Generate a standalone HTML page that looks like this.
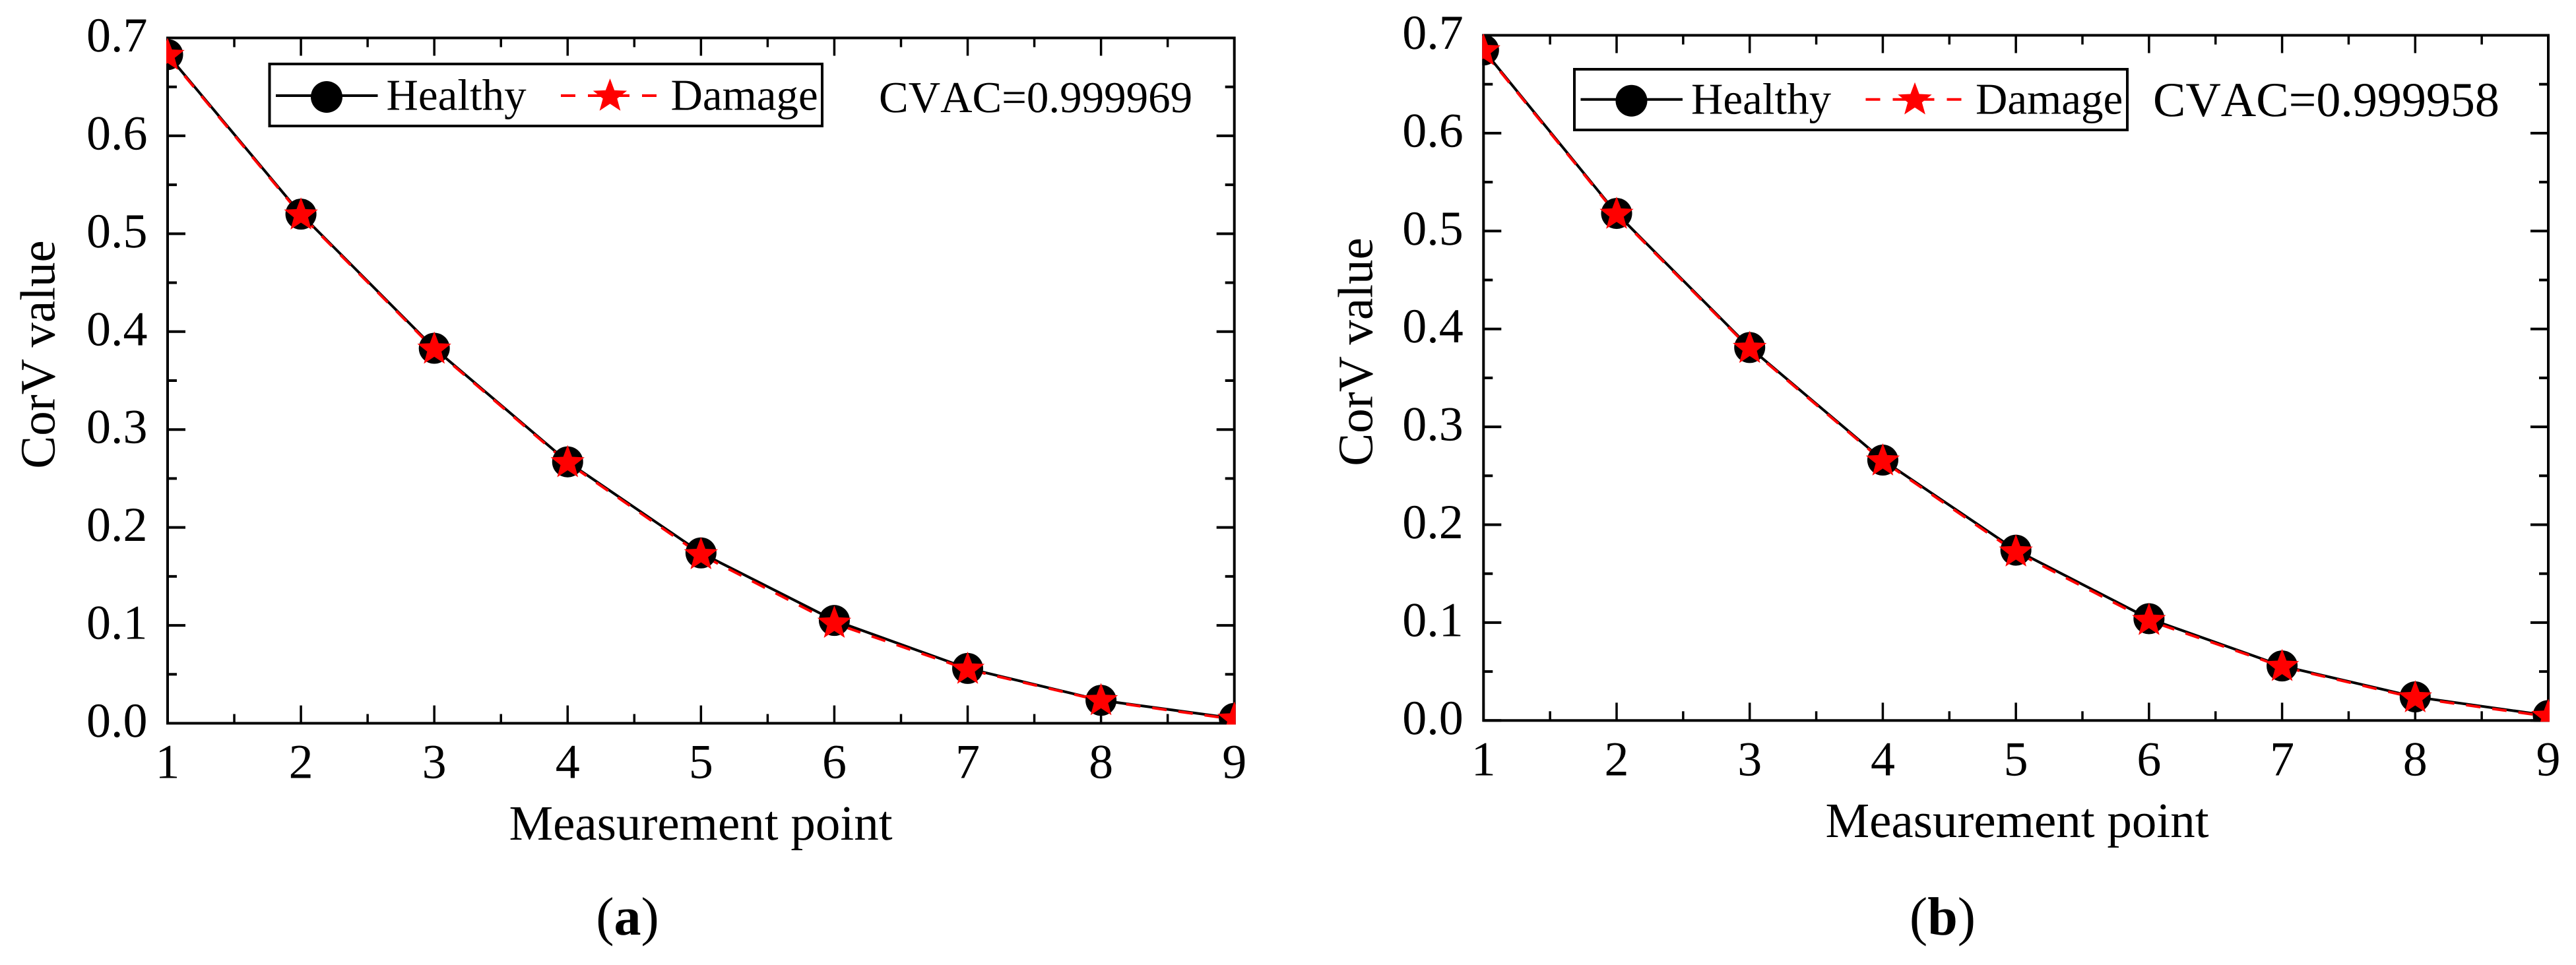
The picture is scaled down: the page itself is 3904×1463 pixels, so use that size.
<!DOCTYPE html>
<html lang="en">
<head>
<meta charset="utf-8">
<title>CorV value comparison: healthy and damage</title>
<style>
html,body{margin:0;padding:0;background:#fff;width:3904px;height:1463px;overflow:hidden}
svg{display:block}
text{font-family:"Liberation Serif",serif;fill:#000;text-rendering:geometricPrecision}
</style>
</head>
<body>
<svg id="figure" xmlns="http://www.w3.org/2000/svg" width="3904" height="1463" viewBox="0 0 3904 1463"></svg>
<script>
const measurementPoints = [1, 2, 3, 4, 5, 6, 7, 8, 9];
const xTickLabels = ['1', '2', '3', '4', '5', '6', '7', '8', '9'];
const yTickLabels = ['0.0', '0.1', '0.2', '0.3', '0.4', '0.5', '0.6', '0.7'];
const yTickValues = [0, 0.1, 0.2, 0.3, 0.4, 0.5, 0.6, 0.7];
const healthyA = [0.683, 0.520, 0.383, 0.267, 0.174, 0.105, 0.056, 0.0234, 0.005];
const damageA = [0.682, 0.519, 0.382, 0.266, 0.172, 0.102, 0.055, 0.023, 0.004];
const healthyB = [0.685, 0.518, 0.381, 0.266, 0.174, 0.104, 0.0557, 0.0241, 0.005];
const damageB = [0.684, 0.517, 0.380, 0.265, 0.172, 0.102, 0.055, 0.023, 0.004];

const NS = 'http://www.w3.org/2000/svg';
const figure = document.getElementById('figure');

function mk(parent, tag, attrs, txt) {
  const el = document.createElementNS(NS, tag);
  for (const k in attrs) el.setAttribute(k, attrs[k]);
  if (txt !== undefined) el.textContent = txt;
  parent.appendChild(el);
  return el;
}
function starPoints(cx, cy, R) {
  const pts = [];
  for (let i = 0; i < 10; i++) {
    const r = i % 2 ? R * 0.42 : R;
    const a = -Math.PI / 2 + i * Math.PI / 5;
    pts.push((cx + r * Math.cos(a)).toFixed(2) + ',' + (cy + r * Math.sin(a)).toFixed(2));
  }
  return pts.join(' ');
}
function straightPath(xs, ys) {
  return xs.map((x, i) => (i ? 'L' : 'M') + x.toFixed(2) + ' ' + ys[i].toFixed(2)).join(' ');
}

function drawPanel(cfg) {
  const g = mk(figure, 'g', {});
  
  

  const xScale = v => cfg.left + (v - 1) / 8 * (cfg.right - cfg.left);
  const yScale = v => cfg.bottom - v / 0.7 * (cfg.bottom - cfg.top);

  // Ticks
  const ticks = mk(g, 'g', { stroke: '#000', fill: 'none' });
  
  
  measurementPoints.forEach((p, i) => {
    const x = xScale(p);
    [[cfg.bottom, -1], [cfg.top, 1]].forEach(([y0, dir]) => {
      const major = mk(ticks, 'line', { x1: x, x2: x, y1: y0, y2: y0 + dir * 27, 'stroke-width': 3.5 });
      
      
      if (i < measurementPoints.length - 1) {
        const xm = xScale(p + 0.5);
        const minor = mk(ticks, 'line', { x1: xm, x2: xm, y1: y0, y2: y0 + dir * 14, 'stroke-width': 3.5 });
        
        
      }
    });
  });
  yTickValues.forEach((v, i) => {
    const y = yScale(v);
    [[cfg.left, 1], [cfg.right, -1]].forEach(([x0, dir]) => {
      const major = mk(ticks, 'line', { x1: x0, x2: x0 + dir * 27, y1: y, y2: y, 'stroke-width': 4 });
      
      
      if (i < yTickValues.length - 1) {
        const ym = yScale(v + 0.05);
        const minor = mk(ticks, 'line', { x1: x0, x2: x0 + dir * 14, y1: ym, y2: ym, 'stroke-width': 4 });
        
        
      }
    });
  });

  // Axes frame
  const frame = mk(g, 'rect', { x: cfg.left, y: cfg.top, width: cfg.right - cfg.left, height: cfg.bottom - cfg.top, fill: 'none', stroke: '#000', 'stroke-width': 4 });
  
  

  // Tick labels
  xTickLabels.forEach((label, i) => {
    const t = mk(g, 'text', { x: xScale(measurementPoints[i]), y: cfg.bottom + 83, 'font-size': 74, 'text-anchor': 'middle' }, label);
    
    
  });
  yTickLabels.forEach((label, i) => {
    const t = mk(g, 'text', { x: cfg.left - 30.5, y: yScale(yTickValues[i]) + 20.5, 'font-size': 74, 'text-anchor': 'end' }, label);
    
    
  });

  // Axis titles
  const xTitle = mk(g, 'text', { x: cfg.xTitleX, y: cfg.xTitleY, 'font-size': 75, 'text-anchor': 'middle' }, 'Measurement point');
  
  
  const yTitle = mk(g, 'text', { x: cfg.yTitleX, y: cfg.yTitleY, 'font-size': 75, 'text-anchor': 'middle', transform: 'rotate(-90 ' + cfg.yTitleX + ' ' + cfg.yTitleY + ')' }, 'CorV value');
  
  

  // Series, clipped to the plot area
  const clip = mk(g, 'clipPath', { id: cfg.clipId });
  mk(clip, 'rect', { x: cfg.left - 2, y: cfg.top - 2, width: cfg.right - cfg.left + 4, height: cfg.bottom - cfg.top + 4 });
  const plot = mk(g, 'g', { 'clip-path': 'url(#' + cfg.clipId + ')' });
  
  

  const xs = measurementPoints.map(xScale);
  const healthyLine = mk(plot, 'path', { d: straightPath(xs, cfg.healthy.map(yScale)), fill: 'none', stroke: '#000', 'stroke-width': 4 });
  
  
  const damageLine = mk(plot, 'path', { d: straightPath(xs, cfg.damage.map(yScale)), fill: 'none', stroke: '#f00', 'stroke-width': 4, 'stroke-dasharray': '22 18' });
  
  
  cfg.healthy.forEach((v, i) => {
    const c = mk(plot, 'circle', { cx: xs[i], cy: yScale(v), r: 23.5, fill: '#000' });
    
    
  });
  cfg.damage.forEach((v, i) => {
    const s = mk(plot, 'polygon', { points: starPoints(xs[i], yScale(v), 27), fill: '#f00' });
    
    
  });

  // Legend
  const L = cfg.legend;
  const legend = mk(g, 'g', {});
  
  
  const box = mk(legend, 'rect', { x: L.x, y: L.y, width: L.w, height: L.h, fill: '#fff', stroke: '#000', 'stroke-width': 4 });
  
  
  const lh = mk(legend, 'line', { x1: L.x + 9.5, x2: L.x + 164, y1: L.lineY, y2: L.lineY, stroke: '#000', 'stroke-width': 4 });
  
  
  const lc = mk(legend, 'circle', { cx: L.x + 86.5, cy: L.lineY + 2, r: 24, fill: '#000' });
  
  
  const lht = mk(legend, 'text', { x: L.x + 177, y: L.textY, 'font-size': 67 }, 'Healthy');
  
  
  const ld = mk(legend, 'line', { x1: L.x + 441.5, x2: L.x + 591, y1: L.lineY, y2: L.lineY, stroke: '#f00', 'stroke-width': 4, 'stroke-dasharray': '22 19' });
  
  
  const ls = mk(legend, 'polygon', { points: starPoints(L.x + 516, L.lineY + 1, 27), fill: '#f00' });
  
  
  const ldt = mk(legend, 'text', { x: L.x + 608, y: L.textY, 'font-size': 67 }, 'Damage');
  
  

  // CVAC annotation, unkerned to match the reference width
  const note = mk(g, 'text', { x: cfg.noteX, y: cfg.noteY, 'font-size': cfg.noteSize, style: 'font-kerning:none' }, cfg.note);
  
  

  // Panel caption: ( regular, letter bold, ) regular
  const cap = mk(g, 'text', { x: cfg.capX, y: 1417, 'font-size': 82, 'text-anchor': 'middle' });
  
  
  mk(cap, 'tspan', {}, '(');
  mk(cap, 'tspan', { 'font-weight': 'bold' }, cfg.capLetter);
  mk(cap, 'tspan', {}, ')');
}

drawPanel({
  name: 'panel-a', clipId: 'clip-a',
  left: 254, right: 1870.7, top: 57.5, bottom: 1096.5,
  healthy: healthyA, damage: damageA,
  xTitleX: 1062, xTitleY: 1273, yTitleX: 82.7, yTitleY: 537.5,
  legend: { x: 408.5, y: 97, w: 837.5, h: 94, lineY: 145, textY: 166.7 },
  note: 'CVAC=0.999969', noteX: 1332, noteY: 170, noteSize: 67,
  capX: 951, capLetter: 'a'
});
drawPanel({
  name: 'panel-b', clipId: 'clip-b',
  left: 2248.3, right: 3862, top: 53.5, bottom: 1092.3,
  healthy: healthyB, damage: damageB,
  xTitleX: 3057, xTitleY: 1269, yTitleX: 2079.4, yTitleY: 533.5,
  legend: { x: 2386, y: 105, w: 838, h: 92, lineY: 150.7, textY: 172.7 },
  note: 'CVAC=0.999958', noteX: 3263, noteY: 176, noteSize: 74,
  capX: 2944, capLetter: 'b'
});
</script>
</body>
</html>
